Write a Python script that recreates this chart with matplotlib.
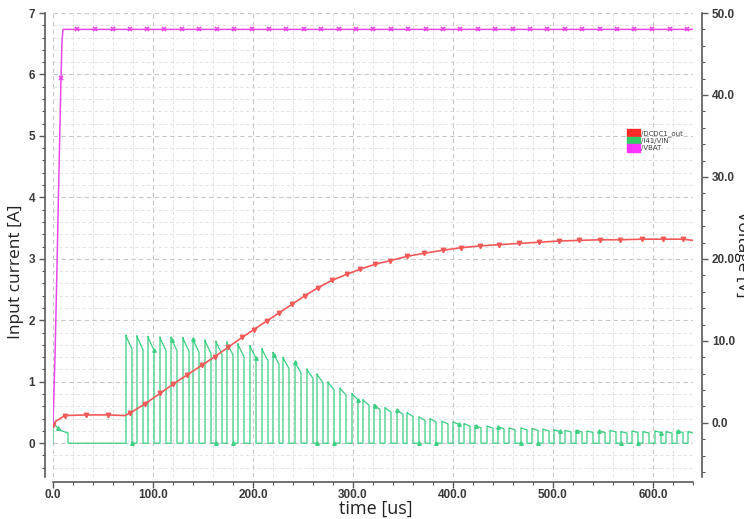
import numpy as np
import matplotlib
matplotlib.use("Agg")
import matplotlib.pyplot as plt
import matplotlib.ticker as mtick
from matplotlib.patches import Patch

# /VBAT  (right axis, volts) - fast rise, then flat ~48 V
vbat_t = [0, 0.5, 2, 4, 5.5, 8, 9, 10, 24, 42, 60, 77, 94, 111, 129, 146, 164, 181,
          199, 216, 233, 251, 268, 286, 303, 320, 338, 355, 373, 390, 407, 425, 442,
          460, 477, 494, 512, 529, 547, 564, 581, 599, 617, 634, 640]
vbat_v = [0, 2, 8, 19, 28, 42.1, 46.5, 48.0] + [48.0] * 37

# /DCDC1_out (left axis)
dc_t = [0, 3, 12, 33, 55, 72, 77, 92, 107, 120, 134, 149, 162, 175, 189, 201, 214,
        226, 239, 252, 265, 279, 294, 307, 322, 337, 354, 371, 390, 408, 427, 446,
        466, 486, 506, 526, 547, 567, 589, 610, 630, 640]
dc_y = [0.30, 0.36, 0.45, 0.46, 0.46, 0.45, 0.49, 0.64, 0.81, 0.96, 1.11, 1.27, 1.41,
        1.56, 1.72, 1.85, 1.99, 2.12, 2.26, 2.40, 2.53, 2.65, 2.75, 2.83, 2.91, 2.97,
        3.04, 3.09, 3.14, 3.18, 3.21, 3.23, 3.25, 3.27, 3.29, 3.30, 3.31, 3.31, 3.32,
        3.32, 3.32, 3.30]

# /I41/VIN start-up part, then switching pulses
vin_t0 = [0, 0, 2, 5, 9, 14, 15, 15]
vin_y0 = [0, 0.37, 0.30, 0.24, 0.20, 0.17, 0.17, 0]

pulse_start = [73, 84, 95, 107, 118, 130, 140, 152, 163, 174,
               185, 197, 209, 220, 230, 242, 254, 264, 275, 287,
               299, 310, 321, 332, 344, 354, 366, 377, 389, 400,
               411, 422, 434, 445, 456, 468, 479, 490, 501, 512,
               523, 534, 546, 557, 568, 579, 590, 602, 613, 624, 635]
pulse_peak = [1.76, 1.75, 1.74, 1.73, 1.73, 1.72, 1.70, 1.68, 1.66, 1.65,
              1.62, 1.59, 1.54, 1.48, 1.40, 1.32, 1.21, 1.13, 1.00, 0.90,
              0.81, 0.71, 0.63, 0.58, 0.54, 0.50, 0.43, 0.40, 0.36, 0.35,
              0.32, 0.29, 0.28, 0.27, 0.25, 0.25, 0.24, 0.23, 0.22, 0.21,
              0.21, 0.20, 0.20, 0.21, 0.19, 0.20, 0.19, 0.20, 0.19, 0.20, 0.19]
pulse_width = 6.0
droop = 0.87

vin_t = list(vin_t0)
vin_y = list(vin_y0)
for t0, pk in zip(pulse_start, pulse_peak):
    t1 = min(t0 + pulse_width, 640)
    vin_t += [t0, t0, t0 + 1.0, t1, t1]
    vin_y += [0, pk, pk * 0.97, pk * droop, 0 if t1 < 640 else pk * droop]

red = '#f25a5a'
green = '#3ccf82'
magenta = '#e848e8'
axcol = '#5a5a5a'
txtcol = '#3a3a3a'

fig = plt.figure(figsize=(7.44, 5.19), dpi=100)
ax = fig.add_axes([53 / 744, 1 - 477 / 519, 640 / 744, 464 / 519])
ax2 = ax.twinx()

ax.plot(vin_t, vin_y, color=green, lw=0.9, marker='^', ms=2.5,
        markevery=(3, 9), zorder=3)
red_marks = [i for i in range(len(dc_t)) if dc_t[i] not in (3, 72, 640)]
ax.plot(dc_t, dc_y, color=red, lw=1.2, marker='v', ms=3.2,
        markevery=red_marks, zorder=4)
vb_marks = [i for i in range(len(vbat_t)) if vbat_t[i] >= 8 and vbat_t[i] not in (9, 10, 640)]
ax2.plot(vbat_t, vbat_v, color=magenta, lw=1.1, marker='x', ms=3,
         mew=1.2, markevery=vb_marks, zorder=4)

ax.set_xlim(0, 640)
ax.set_ylim(-0.55, 7.0)
ax2.set_ylim(-6.6, 50.0)

ax.xaxis.set_major_locator(mtick.MultipleLocator(100))
ax.xaxis.set_minor_locator(mtick.MultipleLocator(20))
ax.xaxis.set_major_formatter(mtick.FormatStrFormatter('%.1f'))
ax.yaxis.set_major_locator(mtick.MultipleLocator(1))
ax.yaxis.set_minor_locator(mtick.MultipleLocator(0.2))
ax2.yaxis.set_major_locator(mtick.MultipleLocator(10))
ax2.yaxis.set_minor_locator(mtick.MultipleLocator(2))
ax2.yaxis.set_major_formatter(mtick.FormatStrFormatter('%.1f'))

ax.grid(which='major', color='#c8c8c8', ls=(0, (4, 3)), lw=0.8)
ax.grid(which='minor', color='#dedede', ls=(0, (4, 3)), lw=0.6)

for a in (ax, ax2):
    for s in a.spines.values():
        s.set_visible(False)
ax.spines['left'].set_visible(True)
ax.spines['left'].set_position(('outward', 6))
ax.spines['bottom'].set_visible(True)
ax.spines['bottom'].set_position(('outward', 3.5))
ax2.spines['right'].set_visible(True)
ax2.spines['right'].set_position(('outward', 6.5))
for s in (ax.spines['left'], ax.spines['bottom'], ax2.spines['right']):
    s.set_color(axcol)
    s.set_linewidth(1.2)

tickfont = dict(family='Liberation Sans', size=8.5, weight='bold')
for a in (ax, ax2):
    a.tick_params(which='major', length=4, width=1, color=axcol,
                  labelcolor=txtcol, pad=3)
    a.tick_params(which='minor', length=2.5, width=0.8, color=axcol)
    for lab in a.get_xticklabels() + a.get_yticklabels():
        lab.set_fontproperties(tickfont)
ax.tick_params(axis='x', which='major', pad=1.5)

ax.set_xlabel('time [us]', family='Open Sans', size=13, color='#222222', labelpad=0)
ax.xaxis.set_label_coords(0.505, -0.050)
ax.set_ylabel('Input current [A]', family='Open Sans', size=12.5, color='#222222')
ax.yaxis.set_label_coords(-0.046, 0.442)
fig.text(734 / 744, 1 - 254 / 519, 'Voltage [V]', rotation=-90, ha='left',
         va='center', family='Open Sans', size=12.5, color='#222222')

handles = [Patch(color='#ff2a2a'), Patch(color='#33cc66'), Patch(color='#ff33ff')]
leg = ax.legend(handles, ['/DCDC1_out', '/I41/VIN', '/VBAT'], loc='upper left',
                bbox_to_anchor=((627 - 53) / 640, 1 - (129 - 13) / 464),
                frameon=False, fontsize=5, handlelength=1.8, handleheight=1.2,
                handletextpad=0.2, labelspacing=0.05, borderpad=0, borderaxespad=0)
for t in leg.get_texts():
    t.set_color('#444444')

fig.savefig('out.png', dpi=100)
